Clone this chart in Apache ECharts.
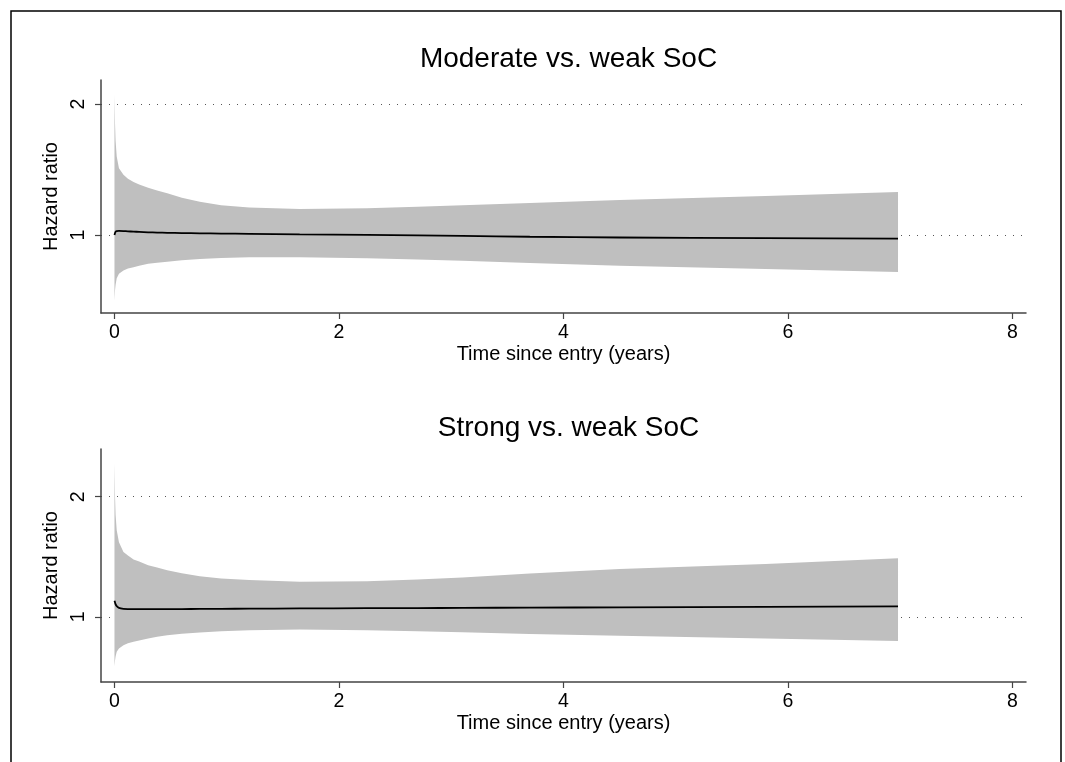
<!DOCTYPE html>
<html lang="en">
<head>
    <meta charset="UTF-8">
    <title>Hazard ratio</title>
    <script src="https://cdn.jsdelivr.net/npm/echarts@6/dist/echarts.min.js"></script>
    <style>
        html, body { margin: 0; padding: 0; background: #fff; }
        #chart1 { width: 1065px; height: 762px; }
    </style>
</head>
<body>
<div id="chart1"></div>
<script type="text/javascript">
    // time since entry (years)
    var times = [0, 0.005, 0.01, 0.02, 0.04, 0.08, 0.12, 0.17, 0.22, 0.3, 0.38, 0.47, 0.6, 0.76, 0.95, 1.2, 1.65, 2.25, 2.7, 3.1, 3.7, 4.5, 5.8, 6.98];

    // moderate vs. weak
    var modHr = [1.0, 1.015, 1.025, 1.03, 1.031, 1.03, 1.028, 1.026, 1.024, 1.021, 1.019, 1.017, 1.015, 1.013, 1.011, 1.009, 1.005, 1.001, 0.997, 0.993, 0.987, 0.981, 0.976, 0.972];
    var modLo = [0.50, 0.58, 0.62, 0.67, 0.705, 0.73, 0.745, 0.755, 0.765, 0.78, 0.788, 0.796, 0.807, 0.817, 0.824, 0.83, 0.83, 0.822, 0.813, 0.804, 0.787, 0.765, 0.74, 0.718];
    var modHi = [2.07, 1.85, 1.72, 1.6, 1.51, 1.46, 1.43, 1.405, 1.385, 1.36, 1.34, 1.318, 1.285, 1.254, 1.228, 1.211, 1.198, 1.204, 1.215, 1.227, 1.245, 1.267, 1.297, 1.328];

    // strong vs. weak
    var strHr = [1.135, 1.12, 1.105, 1.09, 1.075, 1.067, 1.065, 1.064, 1.064, 1.064, 1.064, 1.065, 1.065, 1.066, 1.067, 1.068, 1.07, 1.072, 1.073, 1.075, 1.077, 1.079, 1.084, 1.088];
    var strLo = [0.59, 0.64, 0.67, 0.71, 0.737, 0.764, 0.78, 0.792, 0.803, 0.82, 0.835, 0.848, 0.86, 0.87, 0.88, 0.889, 0.895, 0.889, 0.881, 0.872, 0.858, 0.842, 0.82, 0.80];
    var strHi = [2.28, 2.0, 1.85, 1.72, 1.62, 1.54, 1.51, 1.478, 1.46, 1.43, 1.41, 1.389, 1.362, 1.339, 1.32, 1.306, 1.292, 1.297, 1.31, 1.328, 1.36, 1.398, 1.44, 1.487];

    var xTicks = [0, 2, 4, 6, 8];
    var yTicks = [1, 2];

    var font = 'Liberation Sans, Arial, sans-serif';

    function bandRender(lo, hi) {
        return function (params, api) {
            if (params.dataIndex !== 0) return;
            var pts = [];
            for (var i = 0; i < times.length; i++) pts.push(api.coord([times[i], hi[i]]));
            for (var j = times.length - 1; j >= 0; j--) pts.push(api.coord([times[j], lo[j]]));
            return {
                type: 'polygon',
                shape: {points: pts},
                style: {fill: '#bfbfbf', stroke: null}
            };
        };
    }

    function xAxisOpt(idx) {
        return {
            type: 'value', gridIndex: idx, min: -0.12, max: 8.12,
            name: 'Time since entry (years)', nameLocation: 'middle', nameGap: 31,
            nameTextStyle: {fontSize: 20, color: '#000', fontFamily: font},
            axisLine: {onZero: false, lineStyle: {color: '#444', width: 1.5}},
            axisTick: {customValues: xTicks, length: 6, lineStyle: {color: '#444', width: 1.2}},
            axisLabel: {customValues: xTicks, fontSize: 19.5, color: '#000', margin: 10, fontFamily: font},
            splitLine: {show: false}
        };
    }

    function yAxisOpt(idx, min, max) {
        return {
            type: 'value', gridIndex: idx, min: min, max: max,
            name: 'Hazard ratio', nameLocation: 'middle', nameGap: 30,
            nameTextStyle: {fontSize: 20, color: '#000', fontFamily: font},
            axisLine: {show: true, onZero: false, lineStyle: {color: '#444', width: 1.5}},
            axisTick: {show: true, customValues: yTicks, length: 6, lineStyle: {color: '#444', width: 1.2}},
            axisLabel: {customValues: yTicks, rotate: 90, fontSize: 19.5, color: '#000', margin: 12, fontFamily: font},
            splitLine: {show: true, lineStyle: {color: '#555', width: 1, type: [1, 7]}}
        };
    }

    function pairs(ys) {
        return times.map(function (t, i) { return [t, ys[i]]; });
    }

    var myChart1 = echarts.init(document.getElementById('chart1'));
    myChart1.setOption({
        backgroundColor: '#fff',
        animation: false,
        title: [
            {text: 'Moderate vs. weak SoC', left: 563.5, top: 40, textAlign: 'center',
                textStyle: {fontSize: 28, fontWeight: 'normal', color: '#000', fontFamily: font}},
            {text: 'Strong vs. weak SoC', left: 563.5, top: 409, textAlign: 'center',
                textStyle: {fontSize: 28, fontWeight: 'normal', color: '#000', fontFamily: font}}
        ],
        graphic: [{
            type: 'rect', x: 11, y: 11, silent: true,
            shape: {x: 0, y: 0, width: 1050, height: 790},
            style: {fill: null, stroke: '#000', lineWidth: 1.5}
        }],
        grid: [
            {left: 101, top: 80, width: 925, height: 233},
            {left: 101, top: 449, width: 925, height: 233}
        ],
        xAxis: [xAxisOpt(0), xAxisOpt(1)],
        yAxis: [yAxisOpt(0, 0.405, 2.183), yAxisOpt(1, 0.458, 2.397)],
        series: [
            {
                type: 'custom', xAxisIndex: 0, yAxisIndex: 0, z: 1,
                renderItem: bandRender(modLo, modHi),
                data: times.map(function (t, i) { return [t, modLo[i], modHi[i]]; }),
                encode: {x: 0, y: [1, 2]}
            },
            {
                type: 'line', xAxisIndex: 0, yAxisIndex: 0, z: 3,
                data: pairs(modHr), showSymbol: false, smooth: 0.2,
                lineStyle: {color: '#000', width: 1.8}
            },
            {
                type: 'custom', xAxisIndex: 1, yAxisIndex: 1, z: 1,
                renderItem: bandRender(strLo, strHi),
                data: times.map(function (t, i) { return [t, strLo[i], strHi[i]]; }),
                encode: {x: 0, y: [1, 2]}
            },
            {
                type: 'line', xAxisIndex: 1, yAxisIndex: 1, z: 3,
                data: pairs(strHr), showSymbol: false, smooth: 0.2,
                lineStyle: {color: '#000', width: 1.8}
            }
        ]
    });
</script>
</body>
</html>
